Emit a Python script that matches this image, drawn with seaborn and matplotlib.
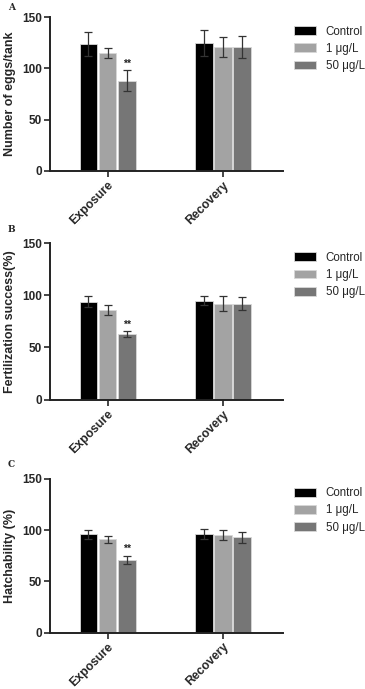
import pandas as pd
import matplotlib
matplotlib.use("Agg")
import matplotlib.pyplot as plt
import seaborn as sns

# --- data ---
phases = ["Exposure", "Recovery"]
groups = ["Control", "1 μg/L", "50 μg/L"]

eggs_mean = [[124, 115, 88], [125, 121, 121]]
eggs_err = [[12, 5, 10], [13, 10, 11]]

fert_mean = [[94, 86, 63], [95, 92, 92]]
fert_err = [[5.5, 4.5, 2.5], [4.5, 7, 6]]

hatch_mean = [[96, 91, 71], [96, 95, 93]]
hatch_err = [[4.5, 3.5, 4], [5, 5, 5.5]]

ylabels = ["Number of eggs/tank", "Fertilization success(%)", "Hatchability (%)"]
panel_letters = ["A", "B", "C"]
yticks = [0, 50, 100, 150]

colors = ["#000000", "#a3a3a3", "#767676"]

sns.set_style("ticks")
plt.rcParams["font.family"] = ["Liberation Sans", "DejaVu Sans"]

fig = plt.figure(figsize=(3.65, 6.89), dpi=100)

# axes positions (left, bottom, width, height) in figure fraction
boxes = [
    (0.137, 0.752, 0.638, 0.223),
    (0.137, 0.420, 0.638, 0.227),
    (0.137, 0.082, 0.638, 0.223),
]
letter_y = [0.995, 0.673, 0.333]

datasets = [(eggs_mean, eggs_err), (fert_mean, fert_err), (hatch_mean, hatch_err)]

for i, (means, errs) in enumerate(datasets):
    rows = []
    for p, phase in enumerate(phases):
        for g, grp in enumerate(groups):
            rows.append({"phase": phase, "group": grp,
                         "value": means[p][g], "err": errs[p][g]})
    df = pd.DataFrame(rows)

    ax = fig.add_axes(boxes[i])
    sns.barplot(data=df, x="phase", y="value", hue="group",
                hue_order=groups, order=phases, palette=colors,
                width=0.5, gap=0.08, errorbar=None,
                edgecolor="#d8d8d8", linewidth=0.6, ax=ax)

    # error bars, placed at the bar centres seaborn computed
    bar_containers = list(ax.containers)
    for g, container in enumerate(bar_containers):
        for p, bar in enumerate(container.patches):
            xc = bar.get_x() + bar.get_width() / 2
            ax.errorbar(xc, bar.get_height(), yerr=errs[p][g], fmt="none",
                        ecolor="#333333", elinewidth=0.9, capsize=3,
                        capthick=0.9, zorder=5)
            if p == 0 and g == 2:
                ax.text(xc, bar.get_height() + errs[p][g] + 1.5, "**",
                        ha="center", va="bottom", fontsize=7.5,
                        fontweight="bold", color="#222222")

    ax.set_xlim(-0.5, 1.52)
    ax.set_ylim(0, 150)
    ax.set_yticks(yticks)
    ax.set_xlabel("")
    ax.set_ylabel(ylabels[i], fontsize=9, fontweight="bold", labelpad=4)
    ax.tick_params(axis="y", labelsize=8.5, width=1.2, length=4, pad=2)
    ax.tick_params(axis="x", labelsize=8.8, width=1.2, length=4, pad=2)
    for lab in ax.get_yticklabels():
        lab.set_fontweight("bold")
    for lab in ax.get_xticklabels():
        lab.set_rotation(45)
        lab.set_ha("right")
        lab.set_rotation_mode("anchor")
        lab.set_fontweight("bold")
    sns.despine(ax=ax)
    for s in ["left", "bottom"]:
        ax.spines[s].set_linewidth(1.4)
        ax.spines[s].set_color("#222222")

    leg = ax.legend(title=None, loc="upper left", bbox_to_anchor=(1.03, 0.975),
                    frameon=False, fontsize=8.3, handlelength=1.9,
                    handleheight=0.8, labelspacing=0.45, handletextpad=0.8,
                    borderaxespad=0)
    for h in leg.legend_handles:
        h.set_edgecolor("#d8d8d8")

    fig.text(0.022, letter_y[i], panel_letters[i], fontsize=6.5,
             fontweight="bold", family="DejaVu Serif", va="top")

fig.savefig("out.png", dpi=100)
